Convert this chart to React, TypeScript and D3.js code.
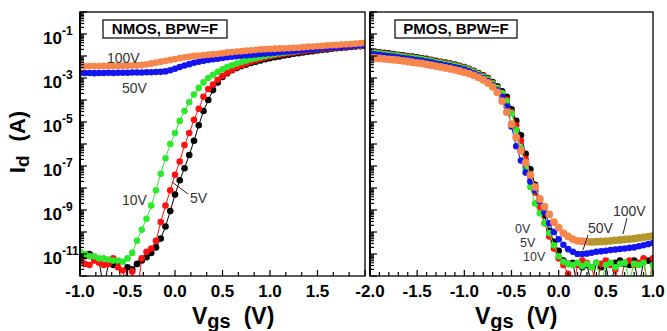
import * as d3 from "d3";
import { useEffect, useRef } from "react";

const W = 667;
const H = 331;
const FONT = "'Liberation Sans', Arial, sans-serif";

// gate sweeps (V), 50 mV steps
const VGS_N = d3.range(0, 61).map((i) => +(-1 + i * 0.05).toFixed(2));
const VGS_P = d3.range(0, 61).map((i) => +(-2 + i * 0.05).toFixed(2));

// log10(Id)
const N_0V = [
  -11.2, -11.1, -11.0, -11.2, -11.3, -12.6, -11.4, -11.5, -11.35, -12.8,
  -11.6, -11.7, -11.45, -11.3, -11.15, -10.95, -10.7, -10.3, -9.75, -9.05,
  -8.3, -7.65, -7.1, -6.5, -5.85, -5.15, -4.5, -4.0, -3.55, -3.2,
  -2.95, -2.78, -2.65, -2.55, -2.46, -2.39, -2.32, -2.26, -2.2, -2.15,
  -2.1, -2.06, -2.02, -1.98, -1.94, -1.9, -1.87, -1.84, -1.81, -1.78,
  -1.75, -1.72, -1.7, -1.67, -1.65, -1.63, -1.61, -1.59, -1.57, -1.56,
  -1.54,
];
const N_5V = [
  -11.3, -11.45, -11.5, -11.3, -11.4, -11.5, -11.45, -11.2, -11.6, -11.75,
  -12.7, -11.8, -12.9, -11.2, -10.9, -10.75, -10.4, -9.55, -8.8, -8.1,
  -7.4, -6.8, -6.05, -5.5, -4.9, -4.4, -3.85, -3.5, -3.3, -3.08,
  -2.9, -2.75, -2.62, -2.51, -2.42, -2.34, -2.26, -2.19, -2.12, -2.07,
  -2.02, -1.98, -1.94, -1.9, -1.87, -1.84, -1.81, -1.78, -1.75, -1.73,
  -1.7, -1.68, -1.66, -1.64, -1.62, -1.6, -1.58, -1.57, -1.55, -1.54,
  -1.52,
];
const N_10V = [
  -10.9, -11.0, -11.1, -11.1, -11.2, -11.2, -11.25, -11.3, -11.3, -11.35,
  -11.2, -10.95, -10.4, -9.9, -9.4, -8.8, -8.1, -7.35, -6.65, -6.0,
  -5.5, -4.95, -4.5, -4.1, -3.75, -3.45, -3.2, -3.0, -2.85, -2.72,
  -2.6, -2.5, -2.42, -2.34, -2.27, -2.21, -2.15, -2.1, -2.05, -2.0,
  -1.96, -1.92, -1.88, -1.85, -1.82, -1.79, -1.76, -1.73, -1.71, -1.68,
  -1.66, -1.64, -1.62, -1.6, -1.58, -1.57, -1.55, -1.54, -1.52, -1.51,
  -1.5,
];
const N_50V = [
  -2.78, -2.77, -2.77, -2.78, -2.77, -2.77, -2.76, -2.77, -2.76, -2.76,
  -2.76, -2.75, -2.75, -2.75, -2.74, -2.74, -2.73, -2.72, -2.7, -2.65,
  -2.58, -2.5, -2.43, -2.37, -2.31, -2.26, -2.22, -2.18, -2.15, -2.12,
  -2.09, -2.06, -2.03, -2.01, -1.99, -1.97, -1.95, -1.93, -1.91, -1.89,
  -1.87, -1.85, -1.83, -1.81, -1.79, -1.77, -1.75, -1.73, -1.71, -1.69,
  -1.67, -1.65, -1.63, -1.61, -1.6, -1.58, -1.56, -1.55, -1.53, -1.51,
  -1.5,
];
const N_100V = [
  -2.47, -2.47, -2.46, -2.46, -2.46, -2.45, -2.45, -2.45, -2.44, -2.44,
  -2.44, -2.43, -2.43, -2.41, -2.38, -2.34, -2.3, -2.26, -2.22, -2.18,
  -2.14, -2.1, -2.06, -2.03, -2.0, -1.98, -1.96, -1.94, -1.92, -1.9,
  -1.87, -1.84, -1.82, -1.8, -1.78, -1.76, -1.74, -1.72, -1.7, -1.69,
  -1.68, -1.67, -1.66, -1.65, -1.64, -1.63, -1.62, -1.6, -1.58, -1.57,
  -1.55, -1.54, -1.52, -1.51, -1.5, -1.48, -1.47, -1.46, -1.44, -1.42,
  -1.4,
];

// log10(Id)
const P_0V = [
  -1.77, -1.8, -1.83, -1.86, -1.88, -1.91, -1.94, -1.97, -2.0, -2.03,
  -2.06, -2.09, -2.13, -2.17, -2.22, -2.26, -2.3, -2.34, -2.39, -2.44,
  -2.5, -2.58, -2.67, -2.77, -2.88, -3.0, -3.18, -3.38, -3.6, -3.85,
  -4.42, -4.95, -5.6, -6.45, -7.15, -7.85, -8.55, -9.25, -9.95, -10.45,
  -10.86, -11.3, -11.45, -11.4, -12.5, -11.6, -11.5, -12.4, -11.4, -11.6,
  -11.5, -12.6, -11.4, -11.3, -11.45, -11.5, -11.3, -12.5, -11.35, -11.3,
  -11.4,
];
const P_5V = [
  -1.8, -1.83, -1.86, -1.89, -1.91, -1.94, -1.97, -2.0, -2.03, -2.06,
  -2.09, -2.12, -2.16, -2.2, -2.25, -2.29, -2.33, -2.37, -2.42, -2.47,
  -2.53, -2.61, -2.7, -2.8, -2.91, -3.04, -3.22, -3.43, -3.68, -3.98,
  -4.55, -5.15, -5.85, -6.7, -7.5, -8.2, -8.9, -9.6, -10.2, -10.75,
  -11.2, -11.5, -11.9, -12.6, -11.5, -11.3, -11.4, -11.6, -12.5, -11.45,
  -11.3, -11.5, -11.7, -12.4, -11.4, -11.3, -11.5, -11.4, -11.2, -12.6,
  -11.2,
];
const P_10V = [
  -1.82, -1.85, -1.88, -1.91, -1.93, -1.96, -1.99, -2.02, -2.05, -2.08,
  -2.11, -2.14, -2.18, -2.22, -2.27, -2.31, -2.35, -2.39, -2.44, -2.49,
  -2.55, -2.63, -2.72, -2.82, -2.93, -3.06, -3.25, -3.46, -3.7, -4.05,
  -4.6, -5.35, -6.2, -7.1, -7.95, -8.7, -9.15, -9.6, -10.05, -10.6,
  -11.1, -11.35, -11.45, -11.5, -11.4, -11.55, -11.45, -11.6, -11.4, -12.3,
  -11.5, -11.4, -11.6, -11.45, -11.4, -12.2, -11.45, -11.5, -11.4, -12.5,
  -11.5,
];
const P_50V = [
  -1.89, -1.92, -1.95, -1.98, -2.0, -2.03, -2.06, -2.09, -2.12, -2.15,
  -2.18, -2.21, -2.25, -2.29, -2.34, -2.38, -2.42, -2.46, -2.51, -2.56,
  -2.62, -2.7, -2.79, -2.89, -3.0, -3.14, -3.33, -3.56, -3.85, -4.3,
  -5.2, -6.1, -6.75, -7.3, -7.7, -8.1, -8.6, -9.1, -9.6, -10.0,
  -10.33, -10.58, -10.78, -10.9, -11.0, -11.0, -10.98, -10.94, -10.9, -10.88,
  -10.85, -10.82, -10.8, -10.77, -10.75, -10.72, -10.7, -10.65, -10.6, -10.55,
  -10.5,
];
const P_100V = [
  -2.07, -2.09, -2.11, -2.13, -2.15, -2.17, -2.19, -2.22, -2.25, -2.28,
  -2.31, -2.34, -2.38, -2.42, -2.46, -2.5, -2.54, -2.58, -2.63, -2.68,
  -2.74, -2.8, -2.88, -2.97, -3.08, -3.22, -3.4, -3.65, -4.05, -4.55,
  -5.1, -5.7, -6.3, -6.85, -7.4, -7.95, -8.5, -8.85, -9.2, -9.55,
  -9.8, -10.05, -10.2, -10.32, -10.4, -10.42, -10.44, -10.45, -10.44, -10.43,
  -10.42, -10.4, -10.38, -10.36, -10.34, -10.32, -10.3, -10.27, -10.24, -10.21,
  -10.18,
];

const X_LABELS_N = [-1.0, -0.5, 0.0, 0.5, 1.0, 1.5];
const X_LABELS_P = [-2.0, -1.5, -1.0, -0.5, 0.0, 0.5, 1.0];
const Y_LABEL_EXP = [-1, -3, -5, -7, -9, -11];

const BLACK = "#000000";
const RED = "#ff1010";
const GREEN = "#2ee82e";
const BLUE = "#1414f0";
const ORANGE = "#f7864c";
const OLIVE = "#b5962c";

export default function App() {
  const ref = useRef<SVGSVGElement>(null);

  useEffect(() => {
    const svg = d3.select(ref.current);
    svg.selectAll("*").remove();

    const y = d3.scaleLog().domain([1e-12, 1]).range([276, 12]);
    const xN = d3.scaleLinear().domain([-1, 2]).range([80, 365]);
    const xP = d3.scaleLinear().domain([-2, 1]).range([370, 653]);
    const [yBot, yTop] = y.range();

    const defs = svg.append("defs");

    function panel(
      id: string,
      x: d3.ScaleLinear<number, number>,
      vgs: number[],
      series: { vals: number[]; color: string; line: string; r: number; colorAt?: (v: number) => string }[],
      minor: number[],
      labels: number[]
    ) {
      const [x0, x1] = x.range();
      defs
        .append("clipPath")
        .attr("id", id)
        .append("rect")
        .attr("x", x0)
        .attr("y", yTop)
        .attr("width", x1 - x0)
        .attr("height", yBot - yTop);

      const plot = svg.append("g").attr("clip-path", `url(#${id})`);
      series.forEach((s) => {
        const pts = s.vals.map((v, i) => [x(vgs[i]), y(Math.pow(10, v))] as [number, number]);
        plot
          .append("path")
          .attr("d", d3.line()(pts))
          .attr("fill", "none")
          .attr("stroke", s.line)
          .attr("stroke-width", 1);
        plot
          .append("g")
          .selectAll("circle")
          .data(pts)
          .join("circle")
          .attr("cx", (d) => d[0])
          .attr("cy", (d) => d[1])
          .attr("r", s.r)
          .attr("fill", (_, i) => (s.colorAt ? s.colorAt(vgs[i]) : s.color));
      });

      const ax = svg.append("g").attr("stroke", "#000").attr("fill", "none");
      ax.append("rect")
        .attr("x", x0)
        .attr("y", yTop)
        .attr("width", x1 - x0)
        .attr("height", yBot - yTop)
        .attr("stroke-width", 1.3);
      ax.append("line")
        .attr("x1", x0)
        .attr("x2", x0)
        .attr("y1", yTop)
        .attr("y2", yBot)
        .attr("stroke-width", 2);

      // log ticks on the left axis, pointing in
      for (let e = -12; e <= 0; e++) {
        for (let k = 1; k <= 9; k++) {
          const v = k * Math.pow(10, e);
          if (v > 1) break;
          ax.append("line")
            .attr("x1", x0)
            .attr("x2", x0 + (k === 1 ? 7 : 4))
            .attr("y1", y(v))
            .attr("y2", y(v))
            .attr("stroke-width", 1.2);
        }
      }
      // bottom ticks, pointing up
      minor.forEach((t) => {
        const major = labels.some((l) => Math.abs(l - t) < 1e-6) || Math.abs(t - x.domain()[1]) < 1e-6;
        ax.append("line")
          .attr("x1", x(t))
          .attr("x2", x(t))
          .attr("y1", yBot)
          .attr("y2", yBot - (major ? 6 : 4))
          .attr("stroke-width", 1.2);
      });

      svg
        .append("g")
        .selectAll("text")
        .data(labels)
        .join("text")
        .attr("x", (d) => x(d))
        .attr("y", 297)
        .attr("text-anchor", "middle")
        .attr("font-family", FONT)
        .attr("font-weight", 700)
        .attr("font-size", 17)
        .text((d) => d.toFixed(1));
    }

    panel(
      "clipN",
      xN,
      VGS_N,
      [
        { vals: N_0V, color: BLACK, line: BLACK, r: 3.3 },
        { vals: N_5V, color: RED, line: RED, r: 3.3 },
        { vals: N_10V, color: GREEN, line: GREEN, r: 3.3 },
        { vals: N_50V, color: BLUE, line: BLUE, r: 3.3 },
        { vals: N_100V, color: ORANGE, line: ORANGE, r: 3.4 },
      ],
      d3.range(0, 19).map((i) => -1 + i / 6),
      X_LABELS_N
    );
    panel(
      "clipP",
      xP,
      VGS_P,
      [
        { vals: P_0V, color: BLACK, line: BLACK, r: 3.3 },
        { vals: P_5V, color: RED, line: RED, r: 3.3 },
        { vals: P_10V, color: GREEN, line: GREEN, r: 3.3 },
        { vals: P_50V, color: BLUE, line: BLUE, r: 3.3 },
        {
          vals: P_100V,
          color: ORANGE,
          line: "#d8c21c",
          r: 3.9,
          colorAt: (v) => (v > 0.3 ? OLIVE : ORANGE),
        },
      ],
      d3.range(0, 31).map((i) => -2 + i * 0.1),
      X_LABELS_P
    );

    // y tick labels (shared axis on the left)
    const yl = svg
      .append("g")
      .attr("font-family", FONT)
      .attr("font-weight", 700)
      .selectAll("text")
      .data(Y_LABEL_EXP)
      .join("text")
      .attr("x", 43)
      .attr("y", (e) => y(Math.pow(10, e)) + 10)
      .attr("font-size", 17);
    yl.append("tspan").text("10");
    yl.append("tspan").attr("dy", -9).attr("font-size", 12).text((e) => String(e));

    // axis titles
    const title = (x: number, y0: number) => {
      const t = svg
        .append("text")
        .attr("x", x)
        .attr("y", y0)
        .attr("font-family", FONT)
        .attr("font-weight", 700)
        .attr("font-size", 23);
      t.append("tspan").text("V");
      t.append("tspan").attr("font-size", 20).attr("dy", 4).text("gs");
      t.append("tspan").attr("dy", -4).attr("dx", 13).text("(V)");
    };
    title(192, 324);
    title(475, 324);

    const yt = svg
      .append("text")
      .attr("transform", "translate(25,142) rotate(-90)")
      .attr("text-anchor", "middle")
      .attr("font-family", FONT)
      .attr("font-weight", 700)
      .attr("font-size", 22);
    yt.append("tspan").text("I");
    yt.append("tspan").attr("font-size", 19).attr("dy", 4).text("d");
    yt.append("tspan").attr("dy", -4).attr("dx", 14).text("(A)");

    // panel captions
    const caption = (x: number, w: number, label: string) => {
      svg
        .append("rect")
        .attr("x", x)
        .attr("y", 20)
        .attr("width", w)
        .attr("height", 18)
        .attr("fill", "#fff")
        .attr("stroke", "#000")
        .attr("stroke-width", 1.2);
      svg
        .append("text")
        .attr("x", x + w / 2)
        .attr("y", 34)
        .attr("text-anchor", "middle")
        .attr("font-family", FONT)
        .attr("font-weight", 700)
        .attr("font-size", 15)
        .text(label);
    };
    caption(103, 124, "NMOS, BPW=F");
    caption(395, 122, "PMOS, BPW=F");

    // bias annotations: [text, x, baseline, size]
    const notes: [string, number, number, number][] = [
      ["100V", 107, 63, 14],
      ["50V", 122, 93, 14],
      ["10V", 122, 205, 14],
      ["5V", 190, 203, 14],
      ["0V", 515, 233, 12.5],
      ["5V", 520, 247, 12.5],
      ["10V", 523, 261, 12.5],
      ["50V", 588, 233, 14],
      ["100V", 613, 216, 14],
    ];
    svg
      .append("g")
      .attr("font-family", FONT)
      .attr("fill", "#333")
      .selectAll("text")
      .data(notes)
      .join("text")
      .attr("x", (d) => d[1])
      .attr("y", (d) => d[2])
      .attr("font-size", (d) => d[3])
      .text((d) => d[0]);

    const leaders: [number, number, number, number][] = [
      [172, 182, 188, 194],
      [588, 235, 583, 250],
      [627, 218, 623, 234],
    ];
    svg
      .append("g")
      .attr("stroke", "#222")
      .attr("stroke-width", 1)
      .selectAll("line")
      .data(leaders)
      .join("line")
      .attr("x1", (d) => d[0])
      .attr("y1", (d) => d[1])
      .attr("x2", (d) => d[2])
      .attr("y2", (d) => d[3]);
  }, []);

  return (
    <svg
      ref={ref}
      width={W}
      height={H}
      style={{ position: "absolute", left: 0, top: 0, background: "#fff" }}
    />
  );
}
